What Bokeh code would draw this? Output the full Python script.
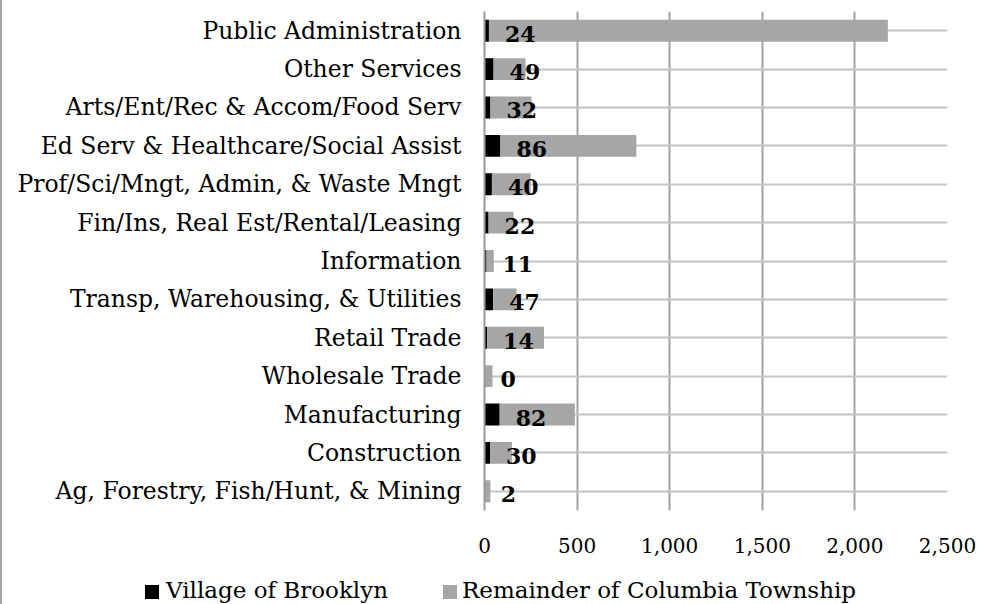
from bokeh.plotting import figure
from bokeh.models import ColumnDataSource, FixedTicker, NumeralTickFormatter, Range1d, Div
from bokeh.layouts import column
from bokeh.core.properties import value
from bokeh.embed import file_html
from bokeh.resources import INLINE

categories = [
    "Public Administration",
    "Other Services",
    "Arts/Ent/Rec & Accom/Food Serv",
    "Ed Serv & Healthcare/Social Assist",
    "Prof/Sci/Mngt, Admin, & Waste Mngt",
    "Fin/Ins, Real Est/Rental/Leasing",
    "Information",
    "Transp, Warehousing, & Utilities",
    "Retail Trade",
    "Wholesale Trade",
    "Manufacturing",
    "Construction",
    "Ag, Forestry, Fish/Hunt, & Mining",
]
village = [24, 49, 32, 86, 40, 22, 11, 47, 14, 0, 82, 30, 2]
remainder = [2154, 173, 222, 734, 209, 135, 39, 126, 307, 43, 406, 118, 30]
x_ticks = [0, 500, 1000, 1500, 2000, 2500]
series_names = ["Village of Brooklyn", "Remainder of Columbia Township"]
series_colors = ["#000000", "#a6a6a6"]

FONT = "DejaVu Serif"

src = ColumnDataSource(dict(
    cat=categories,
    village=village,
    remainder=remainder,
    total=[v + r for v, r in zip(village, remainder)],
    lbl=[str(v) for v in village],
))

p = figure(
    y_range=list(reversed(categories)),
    x_range=Range1d(0, 2500),
    width=984, height=570,
    output_backend="svg", toolbar_location=None,
    min_border_left=484, min_border_top=11, min_border_right=37,
    min_border_bottom=60,
)
p.outline_line_color = None
p.border_fill_color = None
p.styles = {"box-shadow": "inset 2px 0 0 #a6a6a6"}

p.hbar(y="cat", left=0, right="village", height=0.57, source=src,
       fill_color=series_colors[0], line_color=None)
p.hbar(y="cat", left="village", right="total", height=0.57, source=src,
       fill_color=series_colors[1], line_color=None)

p.text(x="village", y="cat", text="lbl", source=src,
       text_font=value(FONT), text_font_style="bold", text_font_size="22px",
       text_align="left", text_baseline="middle", x_offset=16, y_offset=3,
       text_color="#000000")

p.xaxis.ticker = FixedTicker(ticks=x_ticks)
p.xaxis.formatter = NumeralTickFormatter(format="0,0")
p.xaxis.axis_line_color = None
p.xaxis.major_tick_line_color = None
p.xaxis.minor_tick_line_color = None
p.xaxis.major_label_text_font = FONT
p.xaxis.major_label_text_font_size = "20px"
p.xaxis.major_label_text_color = "#000000"
p.xaxis.major_label_standoff = 21

p.yaxis.axis_line_color = "#999999"
p.yaxis.axis_line_width = 2
p.yaxis.major_tick_line_color = None
p.yaxis.minor_tick_line_color = None
p.yaxis.major_label_text_font = FONT
p.yaxis.major_label_text_font_size = "23.5px"
p.yaxis.major_label_text_color = "#000000"
p.yaxis.major_label_standoff = 17

p.xgrid.grid_line_color = "#a0a0a0"
p.xgrid.grid_line_width = 2
p.ygrid.grid_line_color = "#c4c4c4"
p.ygrid.grid_line_width = 2
p.y_range.range_padding = 0

# legend (HTML, real text) below the chart
sq_left = [145, 443]
txt_left = [166, 462]
items = ""
for name, col, sl, tl in zip(series_names, series_colors, sq_left, txt_left):
    items += (f'<div style="position:absolute;left:{sl}px;top:15px;width:14px;height:14px;'
              f'background:{col};"></div>'
              f'<div style="position:absolute;left:{tl}px;top:9px;font-family:\'{FONT}\';'
              f'font-size:23px;line-height:23px;color:#000;white-space:nowrap;">{name}</div>')
legend_div = Div(text=f'<div style="position:relative;width:984px;height:34px;">{items}</div>',
                 width=984, height=34)
legend_div.styles = {"box-shadow": "inset 2px 0 0 #a6a6a6", "margin": "0", "padding": "0"}

layout = column(p, legend_div, spacing=0)

open("out.html", "w").write(file_html(layout, INLINE))
